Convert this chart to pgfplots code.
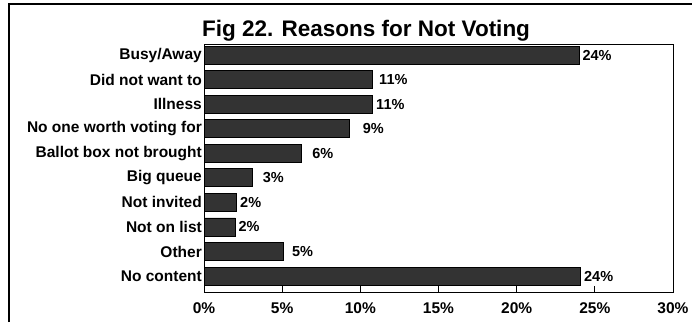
\documentclass[border=0pt]{standalone}
\usepackage{pgfplots}
\pgfplotsset{compat=1.18}
\usepackage{fontspec}
\setmainfont{Liberation Sans}
\begin{document}
\begin{tikzpicture}[x=1pt,y=1pt]
\useasboundingbox (0,0) rectangle (692,322);
\draw[line width=2.2pt] (9,0) -- (9,318) -- (692,318);
\node[font=\bfseries\fontsize{22.5}{26}\selectfont, inner sep=0pt, anchor=base] at (366,285) {Fig 22. Reasons for Not Voting};
\begin{axis}[at={(204pt,30pt)}, anchor=south west, scale only axis,
  width=469pt, height=248pt,
  xbar, xmin=0, xmax=30, ymin=-0.45, ymax=9.65, y dir=reverse,
  bar width=18pt,
  xtick={0,5,10,15,20,25,30},
  xticklabels={0\%,5\%,10\%,15\%,20\%,25\%,30\%},
  ytick={0,1,2,3,4,5,6,7,8,9},
  yticklabels={Busy/Away,Did not want to,Illness,No one worth voting for,Ballot box not brought,Big queue,Not invited,Not on list,Other,No content},
  tick align=inside, major tick length=6pt,
  ytick style={draw=none}, xtick pos=bottom,
  xtick style={line width=1pt, black},
  tick label style={font=\bfseries\fontsize{15.5}{18}\selectfont},
  yticklabel style={inner sep=2pt},
  xticklabel style={yshift=-7pt},
  /pgf/number format/assume math mode=true,
  axis line style={line width=0.9pt},
  nodes near coords, point meta=explicit symbolic,
  nodes near coords style={font=\bfseries\fontsize{14.5}{17}\selectfont, anchor=west, inner sep=3pt},
]
\addplot[fill=black!80, draw=black, line width=0.8pt] coordinates {
  (24.0,0) [24\%]
  (10.8,1) [\hspace{3pt}11\%]
  (10.8,2) [11\%]
  (9.3,3) [\hspace{10pt}9\%]
  (6.2,4) [\hspace{8pt}6\%]
  (3.1,5) [\hspace{7pt}3\%]
  (2.1,6) [2\%]
  (2.0,7) [2\%]
  (5.1,8) [\hspace{5pt}5\%]
  (24.1,9) [24\%]
};
\end{axis}
\end{tikzpicture}
\end{document}
